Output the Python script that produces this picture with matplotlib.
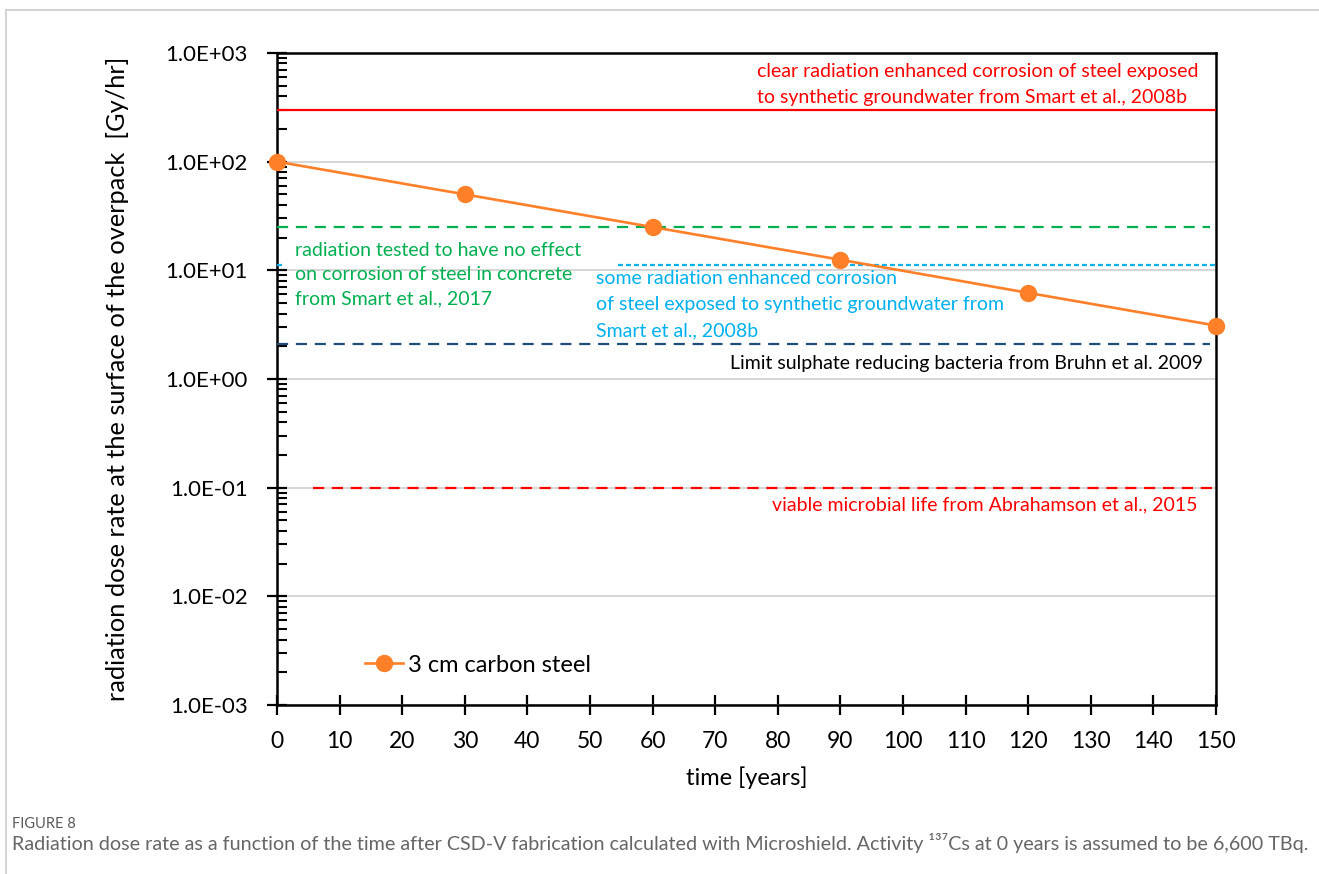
import numpy as np
import matplotlib
matplotlib.use("Agg")
import matplotlib.pyplot as plt
from matplotlib.lines import Line2D
from matplotlib.ticker import LogLocator, FuncFormatter, NullFormatter

plt.rcParams['font.family'] = ['Lato', 'DejaVu Sans']

# dose rate of the overpack (3 cm carbon steel)
years = [0, 30, 60, 90, 120, 150]
dose = [100, 50, 25, 12.5, 6.2, 3.1]

# reference dose levels [Gy/hr] and the time span each line covers
ref_levels = [300, 25, 11.1, 11.1, 2.1, 0.1]
ref_start = [0, 0, 0, 54.5, 0, 5.8]
ref_end = [150, 149, 0.9, 150, 149, 150]
ref_colors = ['#FF0000', '#00B050', '#00B0F0', '#00B0F0', '#1F4E79', '#FF0000']
ref_styles = ['-', (0, (5, 3.5)), (0, (2.2, 1.4)), (0, (2.2, 1.4)),
              (0, (5, 3.5)), (0, (5, 3.5))]

x_ticks = list(range(0, 151, 10))

fig = plt.figure(figsize=(13.19, 8.74), dpi=100)
ax = fig.add_axes([0.2100, 0.1934, 0.7119, 0.7460])

for lvl, x0, x1, c, ls in zip(ref_levels, ref_start, ref_end, ref_colors, ref_styles):
    ax.plot([x0, x1], [lvl, lvl], color=c, linestyle=ls, lw=1.6, zorder=3)

ax.plot(years, dose, color='#FF8028', lw=1.9, marker='o', markersize=11.5,
        label='3 cm carbon steel', zorder=5, clip_on=False)

ax.set_yscale('log')
ax.set_ylim(1e-3, 1e3)
ax.set_xlim(0, 150)
ax.set_xticks(x_ticks)
ax.yaxis.set_major_locator(LogLocator(base=10, numticks=10))
ax.yaxis.set_minor_locator(LogLocator(base=10, subs=np.arange(2, 10), numticks=10))
ax.yaxis.set_major_formatter(FuncFormatter(lambda v, p: f"{v:.1E}"))
ax.yaxis.set_minor_formatter(NullFormatter())
ax.grid(True, axis='y', which='major', color='#CFCFCF', lw=1.2, zorder=0)
ax.set_axisbelow(True)

ax.tick_params(axis='both', which='major', direction='inout', length=14, width=1.6,
               labelsize=16.5, pad=12, colors='black')
ax.tick_params(axis='y', which='major', labelsize=16, pad=14)
ax.tick_params(axis='y', which='minor', direction='in', length=7, width=1.5)
for s in ax.spines.values():
    s.set_linewidth(1.8)

ax.set_xlabel('time [years]', fontsize=17)
ax.set_ylabel('radiation dose rate at the surface of the overpack  [Gy/hr]', fontsize=18.3)
ax.xaxis.set_label_coords(0.5, -0.094)
ax.yaxis.set_label_coords(-0.158, 0.5)

# annotations for the reference levels
ax.text(76.7, 809, 'clear radiation enhanced corrosion of steel exposed\n'
        'to synthetic groundwater from Smart et al., 2008b',
        color='#FF0000', fontsize=14, va='top', ha='left', linespacing=1.68)
ax.text(2.9, 18.2, 'radiation tested to have no effect\n'
        'on corrosion of steel in concrete\nfrom Smart et al., 2017',
        color='#00B050', fontsize=14, va='top', ha='left', linespacing=1.5)
ax.text(51.0, 10.1, 'some radiation enhanced corrosion\n'
        'of steel exposed to synthetic groundwater from\nSmart et al., 2008b',
        color='#00B0F0', fontsize=14, va='top', ha='left', linespacing=1.68)
ax.text(148, 1.40, 'Limit sulphate reducing bacteria from Bruhn et al. 2009',
        color='black', fontsize=14, va='center', ha='right')
ax.text(147.1, 0.070, 'viable microbial life from Abrahamson et al., 2015',
        color='#FF0000', fontsize=14, va='center', ha='right')

ax.legend(loc='center left', bbox_to_anchor=(0.094, 0.061), frameon=False,
          fontsize=17, handlelength=1.6, handletextpad=0.2, borderpad=0, borderaxespad=0)

# page frame and caption
fig.add_artist(Line2D([5.5 / 1319, 1], [1 - 10 / 874] * 2, transform=fig.transFigure,
                      color='#D4D4D4', lw=1.5))
fig.add_artist(Line2D([5.5 / 1319] * 2, [0, 1 - 10 / 874], transform=fig.transFigure,
                      color='#D4D4D4', lw=1.5))
fig.text(12 / 1319, 1 - 828 / 874, 'FIGURE 8', fontsize=10.5, color='#5A5A5A',
         va='baseline', ha='left')
fig.text(12 / 1319, 1 - 850 / 874,
         'Radiation dose rate as a function of the time after CSD-V fabrication calculated '
         'with Microshield. Activity \u00b9\u00b3\u2077Cs at 0 years is assumed to be 6,600 TBq.',
         fontsize=14.2, color='#666666', va='baseline', ha='left')

fig.savefig('out.png', dpi=100)
